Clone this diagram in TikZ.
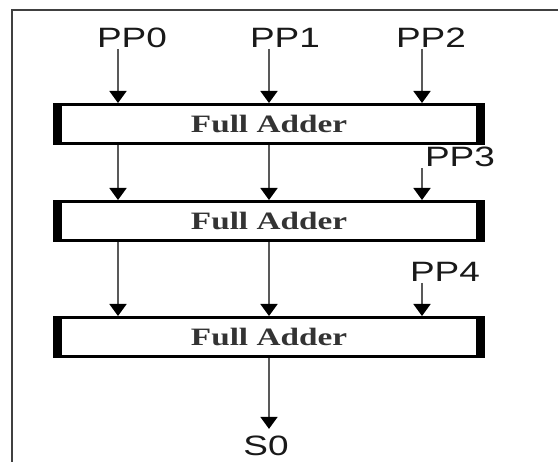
\documentclass[tikz,border=0pt]{standalone}
\usepackage{fontspec}
\setmainfont{Liberation Serif}
\setsansfont{Liberation Sans}
\usepackage{tikz}
\usetikzlibrary{arrows.meta, positioning, calc}

\newcommand{\wide}[2][1.32]{\scalebox{#1}[1]{#2}}

\begin{document}
\begin{tikzpicture}[
    x=1pt, y=-1pt,
    fa/.style={rectangle, draw=black, line width=3pt, fill=white,
               minimum width=429pt, minimum height=39pt, inner sep=0pt,
               font=\bfseries\fontsize{25}{25}\selectfont, text=black!80,
               path picture={
                   \fill[black] (path picture bounding box.north west) rectangle ([xshift=7.5pt]path picture bounding box.south west);
                   \fill[black] (path picture bounding box.north east) rectangle ([xshift=-7.5pt]path picture bounding box.south east);
               }},
    lbl/.style={font=\sffamily\fontsize{28}{28}\selectfont, text=black!90, inner sep=1pt},
    arrow/.style={-{Triangle[width=17pt, length=12pt, black]}, line width=1.7pt, draw=black!65}
]
    \useasboundingbox (0,0) rectangle (558,462);
    \draw[black!75, line width=1.5pt] (12,462) -- (12,10) -- (558,10);

    \coordinate (c0) at (118,0);
    \coordinate (c1) at (269,0);
    \coordinate (c2) at (422,0);

    \node[fa] (fa1) at (269,124) {\wide[1.33]{Full Adder}};
    \node[fa, below=55pt of fa1] (fa2) {\wide[1.33]{Full Adder}};
    \node[fa, below=74pt of fa2] (fa3) {\wide[1.33]{Full Adder}};

    \node[lbl] (pp0) at (132,38) {\wide{PP0}};
    \node[lbl] (pp1) at (285,38) {\wide{PP1}};
    \node[lbl] (pp2) at (431,38) {\wide{PP2}};
    \node[lbl] (pp3) at (460,157) {\wide{PP3}};
    \node[lbl] (pp4) at (445,272) {\wide{PP4}};
    \node[lbl] (s0)  at (266,446) {\wide{S0}};

    \foreach \p/\c in {pp0/c0, pp1/c1, pp2/c2}
        \draw[arrow] (\p.south -| \c) -- (fa1.north -| \c);
    \foreach \c in {c0, c1}
    {
        \draw[arrow] (fa1.south -| \c) -- (fa2.north -| \c);
        \draw[arrow] (fa2.south -| \c) -- (fa3.north -| \c);
    }
    \draw[arrow] (pp3.south -| c2) -- (fa2.north -| c2);
    \draw[arrow] (pp4.south -| c2) -- (fa3.north -| c2);
    \draw[arrow, shorten >=6pt] (fa3.south) -- (s0.north -| fa3.south);
\end{tikzpicture}
\end{document}
